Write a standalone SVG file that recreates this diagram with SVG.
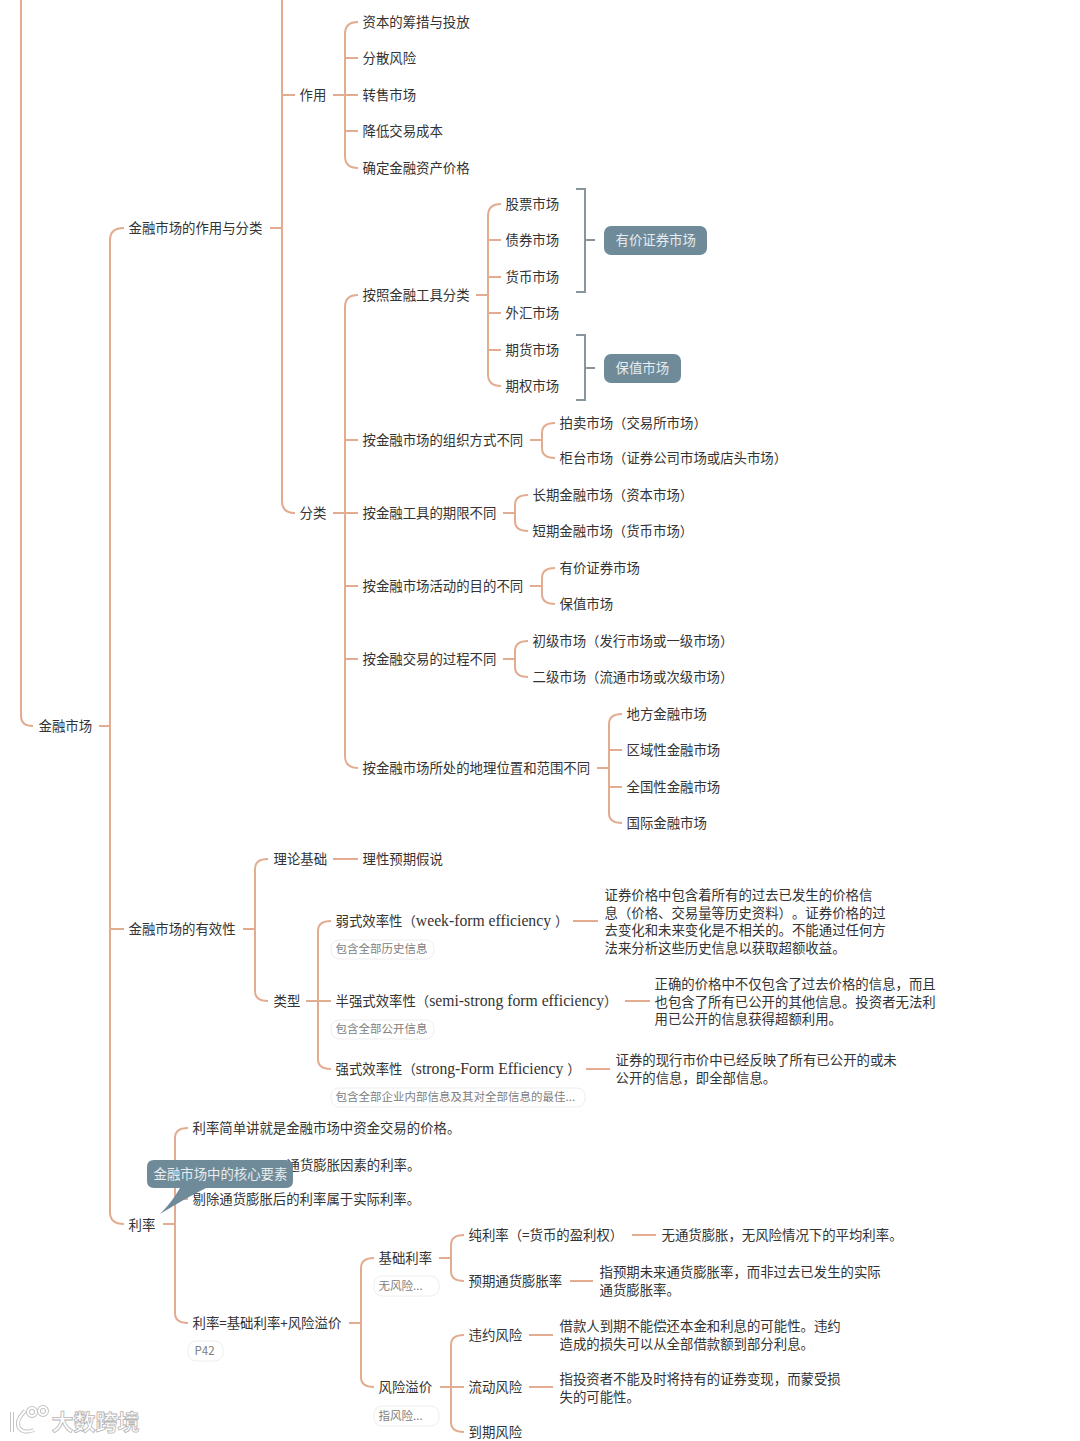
<svg xmlns="http://www.w3.org/2000/svg" width="1080" height="1441" viewBox="0 0 1080 1441">
<style>
text{font-family:"Noto Sans CJK SC","Noto Sans",sans-serif;font-size:13.4px;fill:#333;dominant-baseline:central;text-spacing-trim:space-all;transform:translate(-.5px,-.7px)}
.l{font-family:"Liberation Serif","Noto Sans CJK SC",serif;font-size:15.7px}
.n{font-size:11.5px;fill:#808080}
.w{fill:#e6ecef}
.p{fill:#fff;stroke:#eeeeee;stroke-width:1}
.c{fill:#6f8a98}
#connectors path{fill:none;stroke:#e3ac90;stroke-width:2}
#connectors .b{stroke:#87959d}
#wm text{font-size:22px;font-weight:700;fill:#fff;stroke:#b5b5b5;stroke-width:.8}
#wm .o{fill:none;stroke:#c4c4c4;stroke-width:4}
#wm .i{fill:none;stroke:#fff;stroke-width:2}
</style>
<rect width="1080" height="1441" fill="#fff"/>
<g id="connectors">
<path d="M21 0V716Q21 726 33 726"/>
<path d="M99 726H110M124 228Q110 228 110 240V1212Q110 1224 124 1224M110 929H124"/>
<path d="M270 228H282M282 0V501Q282 513 295 513M282 95H295"/>
<path d="M333 95H345M358 22Q345 22 345 34V156Q345 168 358 168M345 58H358M345 95H358M345 131H358"/>
<path d="M333 513H345M358 295Q345 295 345 307V756Q345 768 358 768M345 440H358M345 513H358M345 586H358M345 659H358"/>
<path d="M476 295H488M501 204Q488 204 488 216V374Q488 386 501 386M488 240H501M488 277H501M488 313H501M488 350H501"/>
<path class="b" d="M576 189H585V292H576M585 240H595M576 335H585V400H576M585 368H595"/>
<path d="M530 440H542M555 423Q542 423 542 433V448Q542 458 555 458"/>
<path d="M503 513H515M528 495Q515 495 515 505V521Q515 531 528 531"/>
<path d="M530 586H542M555 568Q542 568 542 578V594Q542 604 555 604"/>
<path d="M503 659H515M528 641Q515 641 515 651V667Q515 677 528 677"/>
<path d="M597 768H609M622 714Q609 714 609 724V813Q609 823 622 823M609 750H622M609 787H622"/>
<path d="M243 929H255M268 859Q255 859 255 869V991Q255 1001 268 1001"/>
<path d="M333 859H358"/>
<path d="M306 1001H318M331 921Q318 921 318 931V1059Q318 1069 331 1069M318 1001H331"/>
<path d="M573 921H598M625 1001H650M586 1069H610"/>
<path d="M163 1224H175M188 1128Q175 1128 175 1138V1313Q175 1323 188 1323M175 1165H188M175 1199H188"/>
<path d="M349 1323H361M374 1258Q361 1258 361 1268V1377Q361 1387 374 1387"/>
<path d="M439 1258H451M464 1235Q451 1235 451 1245V1271Q451 1281 464 1281"/>
<path d="M440 1387H464M464 1335Q451 1335 451 1345V1422Q451 1432 464 1432"/>
<path d="M632 1235H656M570 1281H593M529 1335H553M529 1387H553"/>
</g>
<g id="n1"><text x="39" y="726">金融市场</text></g>
<g id="n2"><text x="129" y="228">金融市场的作用与分类</text></g>
<g id="n3"><text x="300" y="95">作用</text></g>
<g id="n4"><text x="363" y="22">资本的筹措与投放</text></g>
<g id="n5"><text x="363" y="58">分散风险</text></g>
<g id="n6"><text x="363" y="95">转售市场</text></g>
<g id="n7"><text x="363" y="131">降低交易成本</text></g>
<g id="n8"><text x="363" y="168">确定金融资产价格</text></g>
<g id="n9"><text x="300" y="513">分类</text></g>
<g id="n10"><text x="363" y="295">按照金融工具分类</text></g>
<g id="n11"><text x="506" y="204">股票市场</text></g>
<g id="n12"><text x="506" y="240">债券市场</text></g>
<g id="n13"><text x="506" y="277">货币市场</text></g>
<g id="n14"><text x="506" y="313">外汇市场</text></g>
<g id="n15"><text x="506" y="350">期货市场</text></g>
<g id="n16"><text x="506" y="386">期权市场</text></g>
<g id="n17"><rect class="c" x="604" y="226" width="103" height="29" rx="7"/><text class="w" x="616" y="240">有价证券市场</text></g>
<g id="n18"><rect class="c" x="604" y="354" width="77" height="29" rx="7"/><text class="w" x="616" y="368">保值市场</text></g>
<g id="n19"><text x="363" y="440">按金融市场的组织方式不同</text></g>
<g id="n20"><text x="560" y="423">拍卖市场（交易所市场）</text></g>
<g id="n21"><text x="560" y="458">柜台市场（证券公司市场或店头市场）</text></g>
<g id="n22"><text x="363" y="513">按金融工具的期限不同</text></g>
<g id="n23"><text x="533" y="495">长期金融市场（资本市场）</text></g>
<g id="n24"><text x="533" y="531">短期金融市场（货币市场）</text></g>
<g id="n25"><text x="363" y="586">按金融市场活动的目的不同</text></g>
<g id="n26"><text x="560" y="568">有价证券市场</text></g>
<g id="n27"><text x="560" y="604">保值市场</text></g>
<g id="n28"><text x="363" y="659">按金融交易的过程不同</text></g>
<g id="n29"><text x="533" y="641">初级市场（发行市场或一级市场）</text></g>
<g id="n30"><text x="533" y="677">二级市场（流通市场或次级市场）</text></g>
<g id="n31"><text x="363" y="768">按金融市场所处的地理位置和范围不同</text></g>
<g id="n32"><text x="627" y="714">地方金融市场</text></g>
<g id="n33"><text x="627" y="750">区域性金融市场</text></g>
<g id="n34"><text x="627" y="787">全国性金融市场</text></g>
<g id="n35"><text x="627" y="823">国际金融市场</text></g>
<g id="n36"><text x="129" y="929">金融市场的有效性</text></g>
<g id="n37"><text x="274" y="859">理论基础</text></g>
<g id="n38"><text x="363" y="859">理性预期假说</text></g>
<g id="n39"><text x="274" y="1001">类型</text></g>
<g id="n40"><text x="336" y="921">弱式效率性（<tspan class="l">week-form efficiency </tspan>）</text>
<rect class="p" x="331" y="940" width="103" height="19" rx="8"/><text class="n" x="336" y="949">包含全部历史信息</text></g>
<g id="n41"><text x="605" y="894.6">证券价格中包含着所有的过去已发生的价格信</text><text x="605" y="912.4">息（价格、交易量等历史资料）。证券价格的过</text><text x="605" y="930.2">去变化和未来变化是不相关的。不能通过任何方</text><text x="605" y="948">法来分析这些历史信息以获取超额收益。</text></g>
<g id="n42"><text x="336" y="1001">半强式效率性（<tspan class="l">semi-strong form efficiency</tspan>）</text>
<rect class="p" x="331" y="1020" width="103" height="19" rx="8"/><text class="n" x="336" y="1029">包含全部公开信息</text></g>
<g id="n43"><text x="655" y="983.6">正确的价格中不仅包含了过去价格的信息，而且</text><text x="655" y="1001.4">也包含了所有已公开的其他信息。投资者无法利</text><text x="655" y="1019.2">用已公开的信息获得超额利用。</text></g>
<g id="n44"><text x="336" y="1069">强式效率性（<tspan class="l">strong-Form Efficiency </tspan>）</text>
<rect class="p" x="331" y="1088" width="254" height="19" rx="8"/><text class="n" x="336" y="1097">包含全部企业内部信息及其对全部信息的最佳...</text></g>
<g id="n45"><text x="616" y="1060">证券的现行市价中已经反映了所有已公开的或未</text><text x="616" y="1078">公开的信息，即全部信息。</text></g>
<g id="n46"><text x="129" y="1225">利率</text></g>
<g id="n47"><text x="193" y="1128">利率简单讲就是金融市场中资金交易的价格。</text></g>
<g id="n48"><text x="287" y="1165">通货膨胀因素的利率。</text></g>
<g id="n49"><text x="193" y="1199">剔除通货膨胀后的利率属于实际利率。</text></g>
<g id="n50"><path class="c" d="M154 1160H286Q293 1160 293 1167V1181Q293 1188 286 1188H206Q186 1198 160 1214Q172 1202 180 1188H154Q147 1188 147 1181V1167Q147 1160 154 1160Z"/><text class="w" x="154" y="1174">金融市场中的核心要素</text></g>
<g id="n51"><text x="193" y="1323">利率=基础利率+风险溢价</text>
<rect class="p" x="188" y="1341" width="35" height="20" rx="8"/><text class="n" x="195" y="1351">P42</text></g>
<g id="n52"><text x="379" y="1258">基础利率</text>
<rect class="p" x="374" y="1276" width="65" height="20" rx="8"/><text class="n" x="379" y="1286">无风险...</text></g>
<g id="n53"><text x="469" y="1235">纯利率（=货币的盈利权）</text></g>
<g id="n54"><text x="662" y="1235">无通货膨胀，无风险情况下的平均利率。</text></g>
<g id="n55"><text x="469" y="1281">预期通货膨胀率</text></g>
<g id="n56"><text x="600" y="1272">指预期未来通货膨胀率，而非过去已发生的实际</text><text x="600" y="1290">通货膨胀率。</text></g>
<g id="n57"><text x="379" y="1387">风险溢价</text>
<rect class="p" x="374" y="1406" width="65" height="20" rx="8"/><text class="n" x="379" y="1416">指风险...</text></g>
<g id="n58"><text x="469" y="1335">违约风险</text></g>
<g id="n59"><text x="560" y="1326">借款人到期不能偿还本金和利息的可能性。违约</text><text x="560" y="1344">造成的损失可以从全部借款额到部分利息。</text></g>
<g id="n60"><text x="469" y="1387">流动风险</text></g>
<g id="n61"><text x="560" y="1379">指投资者不能及时将持有的证券变现，而蒙受损</text><text x="560" y="1397">失的可能性。</text></g>
<g id="n62"><text x="469" y="1432">到期风险</text></g>
<g id="wm"><path class="o" d="M12 1412V1432M25 1411Q15 1421 19 1428Q24 1434 34 1430"/><circle class="o" cx="32" cy="1412" r="4"/><circle class="o" cx="43" cy="1411" r="4"/><path class="i" d="M12 1412V1432M25 1411Q15 1421 19 1428Q24 1434 34 1430"/><circle class="i" cx="32" cy="1412" r="4"/><circle class="i" cx="43" cy="1411" r="4"/><text x="52" y="1421">大数跨境</text></g>
</svg>
